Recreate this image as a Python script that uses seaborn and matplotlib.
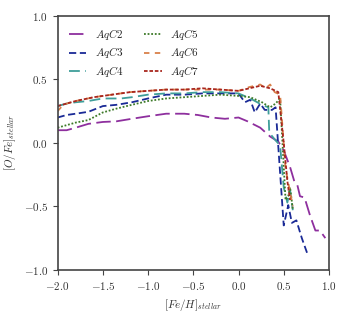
import numpy as np
import pandas as pd
import seaborn as sns
import matplotlib
matplotlib.use("Agg")
from matplotlib import pyplot as plt

# [Fe/H] and [O/Fe], one pair per model
x_c2 = [-2.0, -1.9, -1.8, -1.66, -1.5, -1.35, -1.18, -1.0, -0.8, -0.6, -0.45, -0.3, -0.15, 0.0,
        0.1, 0.24, 0.35, 0.44, 0.5, 0.57, 0.62, 0.65, 0.68, 0.73, 0.79, 0.85, 0.9, 0.96]
y_c2 = [0.10, 0.10, 0.12, 0.15, 0.165, 0.17, 0.19, 0.21, 0.23, 0.23, 0.22, 0.20, 0.19, 0.20,
        0.17, 0.12, 0.05, 0.01, -0.06, -0.19, -0.31, -0.33, -0.42, -0.43, -0.57, -0.69, -0.69, -0.75]

x_c3 = [-2.0, -1.9, -1.8, -1.66, -1.5, -1.35, -1.18, -1.0, -0.8, -0.6, -0.4, -0.2, 0.0, 0.07,
        0.13, 0.18, 0.24, 0.29, 0.37, 0.41, 0.5, 0.55, 0.59, 0.64, 0.7, 0.76]
y_c3 = [0.20, 0.22, 0.23, 0.245, 0.29, 0.30, 0.32, 0.35, 0.38, 0.38, 0.39, 0.39, 0.39, 0.32,
        0.34, 0.24, 0.31, 0.26, 0.26, 0.28, -0.65, -0.49, -0.63, -0.61, -0.75, -0.87]

x_c4 = [-2.0, -1.9, -1.8, -1.66, -1.5, -1.3, -1.18, -1.0, -0.8, -0.6, -0.4, -0.2, 0.0, 0.13,
        0.26, 0.33, 0.34, 0.41, 0.46, 0.50, 0.54, 0.57, 0.60]
y_c4 = [0.29, 0.31, 0.32, 0.33, 0.35, 0.35, 0.36, 0.38, 0.39, 0.39, 0.40, 0.40, 0.39, 0.35,
        0.30, 0.28, 0.08, 0.02, -0.02, -0.35, -0.47, -0.37, -0.53]

x_c5 = [-2.0, -1.9, -1.8, -1.66, -1.5, -1.35, -1.18, -1.0, -0.8, -0.6, -0.4, -0.2, 0.0, 0.13,
        0.26, 0.35, 0.41, 0.46, 0.52, 0.55, 0.57, 0.60]
y_c5 = [0.12, 0.14, 0.16, 0.18, 0.24, 0.27, 0.30, 0.33, 0.35, 0.36, 0.37, 0.38, 0.37, 0.36,
        0.32, 0.28, 0.31, 0.35, -0.45, -0.42, -0.35, -0.52]

x_c6 = [-2.0, -1.95, -1.9, -1.8, -1.6, -1.4, -1.2, -1.0, -0.8, -0.6, -0.4, -0.2, 0.0, 0.12,
        0.24, 0.30, 0.35, 0.40, 0.46, 0.52, 0.56, 0.60]
y_c6 = [0.25, 0.29, 0.31, 0.33, 0.36, 0.38, 0.40, 0.41, 0.42, 0.42, 0.42, 0.42, 0.41, 0.44,
        0.46, 0.43, 0.46, 0.40, 0.38, -0.2, -0.35, -0.5]

x_c7 = [-2.0, -1.9, -1.8, -1.6, -1.4, -1.2, -1.0, -0.8, -0.6, -0.4, -0.2, 0.0, 0.12, 0.24,
        0.35, 0.44, 0.50, 0.54, 0.57]
y_c7 = [0.29, 0.31, 0.33, 0.36, 0.38, 0.40, 0.41, 0.42, 0.42, 0.43, 0.42, 0.41, 0.43, 0.45,
        0.43, 0.40, 0.0, -0.3, -0.45]

models = ["AqC2", "AqC3", "AqC4", "AqC5", "AqC6", "AqC7"]
xs = [x_c2, x_c3, x_c4, x_c5, x_c6, x_c7]
ys = [y_c2, y_c3, y_c4, y_c5, y_c6, y_c7]

frames = []
for m, xx, yy in zip(models, xs, ys):
    frames.append(pd.DataFrame({"feh": xx, "ofe": yy, "model": "$" + m + "$"}))
df = pd.concat(frames, ignore_index=True)

sns.set_style("ticks")
plt.rcParams["mathtext.fontset"] = "cm"
plt.rcParams["font.family"] = ["DejaVu Serif"]

colores = ["#8e2f9e", "#1a2a96", "#3f9e9a", "#3d7a28", "#d9804a", "#a8261e"]
lineas = [(8, 3), (4, 2), (6, 3), (1, 1), (3, 3), (2, 1)]
labels = ["$" + m + "$" for m in models]

fig, ax = plt.subplots(figsize=(3.47, 3.19), dpi=100)
sns.lineplot(data=df, x="feh", y="ofe", hue="model", style="model",
             palette=dict(zip(labels, colores)), dashes=dict(zip(labels, lineas)),
             hue_order=labels, style_order=labels,
             sort=False, estimator=None, linewidth=1.3, ax=ax)

ax.set_xlim(-2.0, 1.0)
ax.set_ylim(-1.0, 1.0)
ax.set_xticks([-2.0, -1.5, -1.0, -0.5, 0.0, 0.5, 1.0])
ax.set_yticks([-1.0, -0.5, 0.0, 0.5, 1.0])
ax.set_xticklabels(["$" + f"{v:.1f}" + "$" for v in ax.get_xticks()])
ax.set_yticklabels(["$" + f"{v:.1f}" + "$" for v in ax.get_yticks()])
ax.tick_params(labelsize=8, colors="#444444", labelcolor="#333333")
for s in ax.spines.values():
    s.set_color("#444444")
    s.set_linewidth(1.2)
ax.set_xlabel("$[Fe/H]_{stellar}$", fontsize=8, color="#333333")
ax.set_ylabel("$[O/Fe]_{stellar}$", fontsize=8, color="#333333")
ax.legend(loc="upper left", ncol=2, frameon=False, fontsize=8,
          handlelength=1.6, columnspacing=1.8, labelspacing=0.3,
          borderaxespad=0.6)

plt.subplots_adjust(left=0.166, right=0.948, top=0.950, bottom=0.154)
plt.savefig("out.png", dpi=100)
